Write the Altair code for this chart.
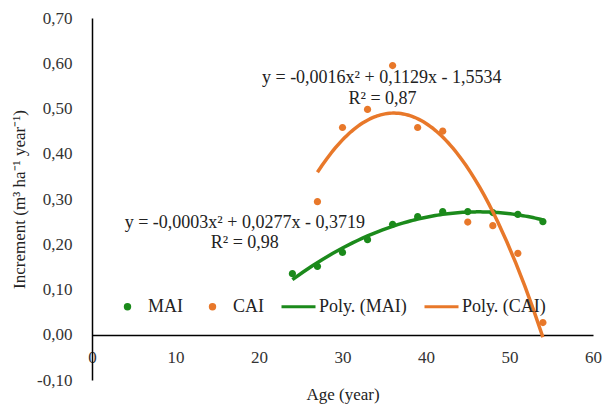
import altair as alt
import pandas as pd

ages = [24, 27, 30, 33, 36, 39, 42, 45, 48, 51, 54]
mai = [0.135, 0.151, 0.182, 0.210, 0.244, 0.261, 0.272, 0.272, 0.270, 0.266, 0.250]
cai_ages = [27, 30, 33, 36, 39, 42, 45, 48, 51, 54]
cai = [0.294, 0.458, 0.498, 0.595, 0.458, 0.450, 0.249, 0.241, 0.180, 0.027]

series_names = ["MAI", "CAI", "Poly. (MAI)", "Poly. (CAI)"]
series_colors = ["#1b8a1b", "#e8782a", "#1b8a1b", "#e8782a"]
DOT = "M -0.13,0 A 0.13,0.13 0 1,0 0.13,0 A 0.13,0.13 0 1,0 -0.13,0 Z"
series_shapes = [DOT, DOT, "stroke", "stroke"]

ann_text = ["y = -0,0016x² + 0,1129x - 1,5534", "R² = 0,87",
            "y = -0,0003x² + 0,0277x - 0,3719", "R² = 0,98"]
ann_x = [34.7, 34.8, 18.3, 18.3]
ann_y = [0.568, 0.522, 0.248, 0.203]

FONT = "Liberation Serif"

pts = pd.DataFrame(
    {"age": ages + cai_ages,
     "value": mai + cai,
     "series": ["MAI"] * len(ages) + ["CAI"] * len(cai_ages)}
)
mai_df = pd.DataFrame({"age": ages, "value": mai})
cai_df = pd.DataFrame({"age": cai_ages, "value": cai})
ann_df = pd.DataFrame({"text": ann_text, "age": ann_x, "value": ann_y})

xs = alt.Scale(domain=[0, 60], nice=False)
ys = alt.Scale(domain=[-0.1, 0.7], nice=False)
color_scale = alt.Scale(domain=series_names, range=series_colors)

legend = alt.Legend(
    title=None, orient="none", direction="horizontal",
    legendX=17, legendY=270, labelFont=FONT, labelFontSize=18,
    labelColor="#222", symbolStrokeWidth=3, columnPadding=11,
    labelOffset=2, symbolSize=1156,
)

x_enc = alt.X("age:Q", scale=xs, axis=alt.Axis(
    title="Age (year)", values=[0, 10, 20, 30, 40, 50, 60], offset=-45,
    grid=False, ticks=False, domainColor="#000", domainWidth=1.5,
    labelFont=FONT, labelFontSize=17, labelColor="#333", labelPadding=14,
    titleFont=FONT, titleFontSize=17, titleFontWeight="normal",
    titleColor="#222", titlePadding=21, labelFlush=False))
y_enc = alt.Y("value:Q", scale=ys, axis=alt.Axis(
    title="Increment (m³ ha⁻¹ year⁻¹)",
    values=[-0.1, 0, 0.1, 0.2, 0.3, 0.4, 0.5, 0.6, 0.7],
    labelExpr="replace(replace(format(datum.value, '.2f'), '.', ','), '\u2212', '-')",
    grid=False, ticks=False, domainColor="#000", domainWidth=1.5,
    labelFont=FONT, labelFontSize=17, labelColor="#333", labelPadding=20,
    titleFont=FONT, titleFontSize=17, titleFontWeight="normal",
    titleColor="#222", titlePadding=8))

points = alt.Chart(pts).mark_point(filled=True, opacity=1, size=3100).encode(
    x=x_enc, y=y_enc,
    color=alt.Color("series:N", scale=color_scale, legend=legend),
    shape=alt.Shape("series:N", scale=alt.Scale(domain=series_names, range=series_shapes), legend=legend),
)

mai_fit = alt.Chart(mai_df).transform_regression(
    "age", "value", method="poly", order=2
).transform_calculate(series="'Poly. (MAI)'").mark_line(strokeWidth=3.5).encode(
    x="age:Q", y="value:Q",
    color=alt.Color("series:N", scale=color_scale, legend=legend),
)
cai_fit = alt.Chart(cai_df).transform_regression(
    "age", "value", method="poly", order=2
).transform_calculate(series="'Poly. (CAI)'").mark_line(strokeWidth=3.5).encode(
    x="age:Q", y="value:Q",
    color=alt.Color("series:N", scale=color_scale, legend=legend),
)

ann = alt.Chart(ann_df).mark_text(font=FONT, fontSize=18, color="#222").encode(
    x="age:Q", y="value:Q", text="text:N")

chart = alt.layer(points, mai_fit, cai_fit, ann).properties(
    width=501, height=362,
    autosize=alt.AutoSizeParams(type="none"),
    padding={"left": 84, "top": 10, "right": 10, "bottom": 30},
).configure_view(stroke=None)

chart.save("out.html", embed_options={"renderer": "svg", "actions": False})
